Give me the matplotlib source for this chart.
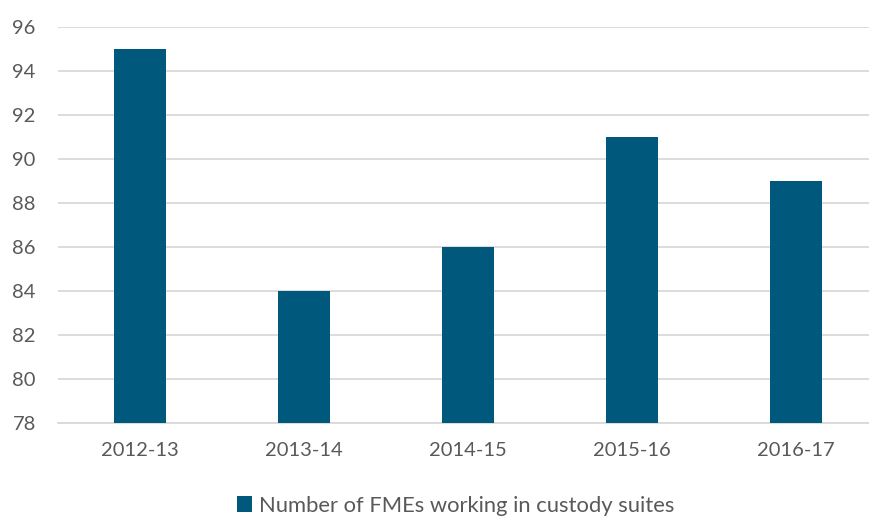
import matplotlib
matplotlib.use("Agg")
import matplotlib.pyplot as plt

years = ["2012-13", "2013-14", "2014-15", "2015-16", "2016-17"]
fmes = [95, 84, 86, 91, 89]
yticks = [78, 80, 82, 84, 86, 88, 90, 92, 94, 96]

plt.rcParams["font.family"] = ["Lato", "DejaVu Sans"]
gris = "#595959"

fig = plt.figure(figsize=(8.69, 5.17), dpi=100)
ax = fig.add_axes([58 / 869, 1 - 423 / 517, 820 / 869, 396 / 517])

ax.bar(years, fmes, width=0.317, color="#00587C", zorder=3,
       label="Number of FMEs working in custody suites")
ax.set_ylim(78, 96)
ax.set_xlim(-0.5, 4.5)
ax.set_yticks(yticks)
ax.yaxis.grid(True, color="#d9d9d9", linewidth=1.3, zorder=0)
for s in ["top", "right", "left"]:
    ax.spines[s].set_visible(False)
ax.spines["bottom"].set_color("#d9d9d9")
ax.spines["bottom"].set_linewidth(1.3)
ax.tick_params(axis="both", length=0, labelsize=14.5, colors=gris)
ax.tick_params(axis="x", pad=14)
ax.tick_params(axis="y", pad=16)

fig.legend(loc="center", bbox_to_anchor=(0.524, 0.022), frameon=False,
           fontsize=15.8, labelcolor=gris, handlelength=0.7,
           handleheight=0.7, handletextpad=0.3)

fig.savefig("out.png", dpi=100)
